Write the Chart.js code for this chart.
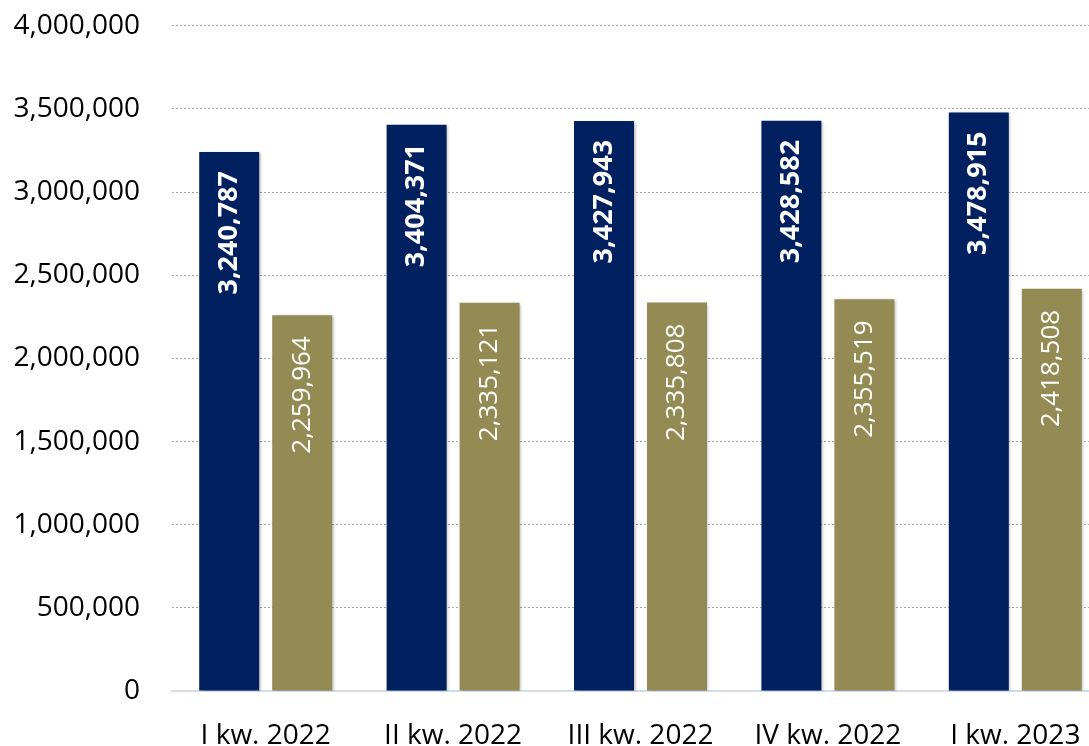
<!DOCTYPE html>
<html>
<head>
<meta charset="utf-8">
<script src="https://cdn.jsdelivr.net/npm/chart.js@4/dist/chart.umd.min.js"></script>
<style>
  html, body { margin: 0; padding: 0; background: #ffffff; overflow: hidden; }
  #wrap { position: relative; width: 1109px; height: 769px; margin-top: -23px; }
</style>
</head>
<body>
<div id="wrap"><canvas id="c"></canvas></div>
<script>
const categories = ['I kw. 2022', 'II kw. 2022', 'III kw. 2022', 'IV kw. 2022', 'I kw. 2023'];
const seriesA = [3240787, 3404371, 3427943, 3428582, 3478915];
const seriesB = [2259964, 2335121, 2335808, 2355519, 2418508];
const yTicks = [0, 500000, 1000000, 1500000, 2000000, 2500000, 3000000, 3500000, 4000000];

const FONT = '"Open Sans", sans-serif';
const fmt = v => v.toLocaleString('en-US');

const shadowPlugin = {
  id: 'barShadow',
  beforeDatasetsDraw(chart) {
    const ctx = chart.ctx;
    ctx.save();
    ctx.shadowColor = 'rgba(0,0,0,0.28)';
    ctx.shadowBlur = 3;
    ctx.shadowOffsetX = 1.5;
    ctx.shadowOffsetY = 1;
  },
  afterDatasetsDraw(chart) {
    chart.ctx.restore();
  }
};

const labelPlugin = {
  id: 'barLabels',
  afterDatasetsDraw(chart) {
    const ctx = chart.ctx;
    chart.data.datasets.forEach((ds, di) => {
      const meta = chart.getDatasetMeta(di);
      meta.data.forEach((el, i) => {
        const v = ds.data[i];
        ctx.save();
        ctx.translate(el.x, el.y + ds.labelOffset);
        ctx.rotate(-Math.PI / 2);
        ctx.fillStyle = '#ffffff';
        ctx.font = ds.labelFont;
        ctx.textAlign = 'right';
        ctx.textBaseline = 'middle';
        ctx.fillText(fmt(v), 0, 0);
        ctx.restore();
      });
    });
  }
};

new Chart(document.getElementById('c'), {
  type: 'bar',
  data: {
    labels: categories,
    datasets: [
      {
        data: seriesA,
        backgroundColor: '#002060',
        labelFont: 'bold 27px ' + FONT,
        labelOffset: 19,
        categoryPercentage: 0.779,
        barPercentage: 0.822
      },
      {
        data: seriesB,
        backgroundColor: '#948A54',
        labelFont: '26px ' + FONT,
        labelOffset: 21,
        categoryPercentage: 0.779,
        barPercentage: 0.822
      }
    ]
  },
  options: {
    responsive: true,
    maintainAspectRatio: false,
    animation: false,
    layout: { padding: { top: 2, right: 0, bottom: 0, left: 0 } },
    plugins: {
      legend: { display: false },
      tooltip: { enabled: false },
      title: { display: false }
    },
    scales: {
      x: {
        offset: true,
        grid: { display: false, drawTicks: false },
        border: { display: true, color: '#cfdcec', width: 2 },
        ticks: {
          color: '#000000',
          font: { family: FONT, size: 28 },
          padding: 28,
          maxRotation: 0,
          autoSkip: false
        },
        afterFit(scale) { scale.height = 55; }
      },
      y: {
        min: 0,
        max: 4000000,
        afterBuildTicks(scale) { scale.ticks = yTicks.map(v => ({ value: v })); },
        grid: {
          drawTicks: false,
          color: ctx => (ctx.tick && ctx.tick.value === 0) ? 'rgba(0,0,0,0)' : '#a6a6a6',
          lineWidth: 1
        },
        border: { display: false, dash: [2, 2] },
        ticks: {
          color: '#000000',
          font: { family: FONT, size: 28 },
          padding: 32,
          callback: v => fmt(v)
        },
        afterFit(scale) { scale.width = 172; }
      }
    }
  },
  plugins: [shadowPlugin, labelPlugin]
});
</script>
</body>
</html>
